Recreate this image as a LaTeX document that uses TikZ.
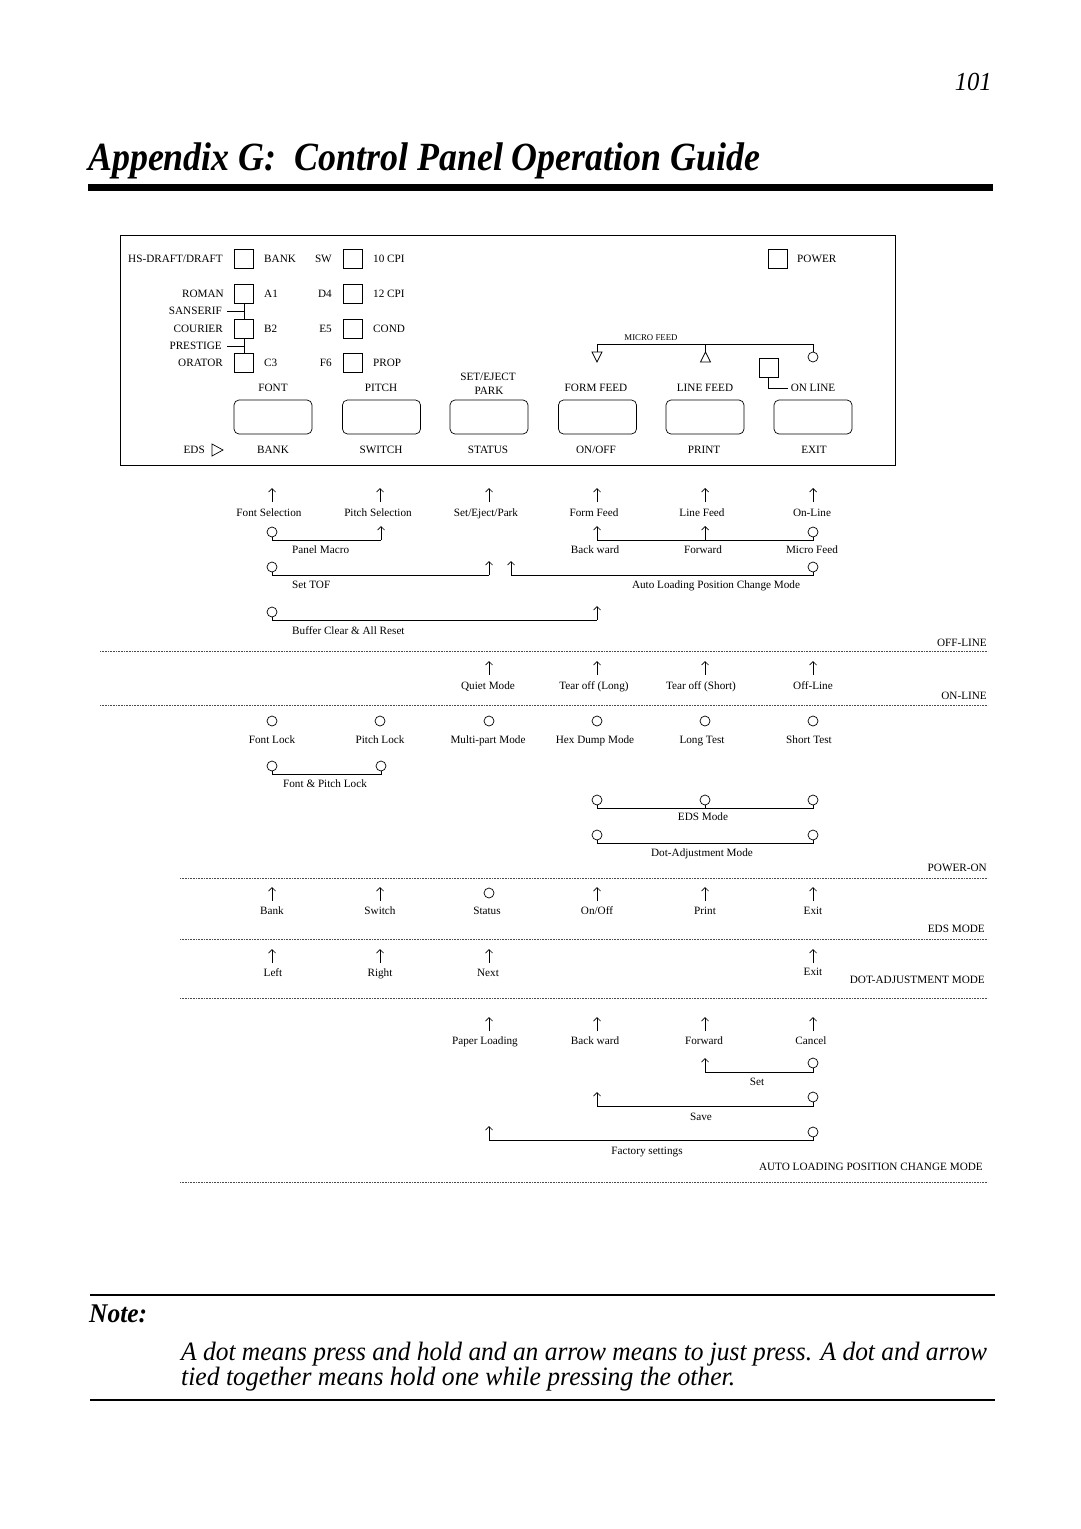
\documentclass[tikz,border=0pt]{standalone}
\usepackage{fontspec}
\setmainfont{Liberation Serif}
\usepackage{graphicx}
\usetikzlibrary{arrows.meta}
\newcommand\Hold[3]{\node[holdc] (#1) at (#2,#3) {};}
\newcommand\Press[4]{\coordinate (#1b) at (#2,#3); \coordinate (#1t) at (#2,#4); \draw[pressarr] (#1b) -- (#1t);}
\begin{document}
\begin{tikzpicture}[x=1pt,y=-1pt,
  lbl/.style={font=\fontsize{11.2}{13}\selectfont, inner sep=0pt, text height=7.4pt, text depth=0pt, anchor=center},
  small/.style={font=\fontsize{8.8}{10}\selectfont, inner sep=0pt, text height=5.9pt, text depth=0pt},
  holdc/.style={circle, draw, line width=0.7pt, minimum size=10pt, inner sep=0pt},
  pressarr/.style={line width=0.7pt, -{Straight Barb[length=3.5pt,width=7pt]}},
  tie/.style={line width=0.8pt},
  sqbox/.style={draw, line width=0.7pt, minimum size=19pt, inner sep=0pt},
  button/.style={draw, line width=0.7pt, rounded corners=5pt, minimum width=78pt, minimum height=34pt, inner sep=0pt},
  sepline/.style={densely dotted, line width=0.6pt, black!70}]
\useasboundingbox (0,0) rectangle (1080,1529);

% header
\node[anchor=base east, inner sep=0pt] (pagenum) at (992,90) {\resizebox{37pt}{\height}{\fontsize{26}{30}\selectfont\itshape 101}};
\node[anchor=base west, inner sep=0pt] (title) at (88,170) {\resizebox{672pt}{\height}{\fontsize{40}{45}\selectfont\bfseries\itshape Appendix G:~~Control Panel Operation Guide}};
\fill (88,184) rectangle (993,191);

% ---------- panel ----------
\draw[line width=0.7pt] (120,235) rectangle (895,465);
\foreach \nm/\yy in {r1/259, r2/294, r3/329, r4/363}{
  \node[sqbox] (sqa\nm) at (244,\yy) {};
  \node[sqbox] (sqb\nm) at (352.5,\yy) {};
}
\node[lbl, anchor=east] (hs) at (223,259) {HS-DRAFT/DRAFT};
\node[lbl, anchor=east] (roman) at (224,294) {ROMAN};
\node[lbl, anchor=east] (sans) at (222,311) {SANSERIF};
\node[lbl, anchor=east] (cour) at (223,329) {COURIER};
\node[lbl, anchor=east] (prest) at (222,346) {PRESTIGE};
\node[lbl, anchor=east] (orat) at (223,363) {ORATOR};
\draw[line width=0.7pt] (sqar2.south) -- (sqar3.north);
\draw[line width=0.7pt] (sqar3.south) -- (sqar4.north);
\draw[line width=0.7pt] ([xshift=5pt]sans.east) -- (sans.east -| sqar2.south);
\draw[line width=0.7pt] ([xshift=5pt]prest.east) -- (prest.east -| sqar2.south);
\node[lbl, anchor=west] (bank1) at (264,259) {BANK};
\node[lbl, anchor=west] (a1) at (264,294) {A1};
\node[lbl, anchor=west] (b2) at (264,329) {B2};
\node[lbl, anchor=west] (c3) at (264,363) {C3};
\node[lbl, anchor=east] (sw) at (332,259) {SW};
\node[lbl, anchor=east] (d4) at (332,294) {D4};
\node[lbl, anchor=east] (e5) at (332,329) {E5};
\node[lbl, anchor=east] (f6) at (332,363) {F6};
\node[lbl, anchor=west] (cpi10) at (373,259) {10 CPI};
\node[lbl, anchor=west] (cpi12) at (373,294) {12 CPI};
\node[lbl, anchor=west] (cond) at (373,329) {COND};
\node[lbl, anchor=west] (prop) at (373,363) {PROP};
% power
\node[sqbox] (pwsq) at (777.5,259) {};
\node[lbl, anchor=west] (power) at (797,259) {POWER};
% buttons
\foreach \i/\xx in {1/273, 2/381.5, 3/489, 4/597.5, 5/705, 6/813}{
  \node[button] (btn\i) at (\xx,417) {};
}
\node[lbl] (tfont) at (273,388) {FONT};
\node[lbl] (tpitch) at (381,388) {PITCH};
\node[lbl] (tset) at (488,377) {SET/EJECT};
\node[lbl] (tpark) at (489,391) {PARK};
\node[lbl] (tff) at (596,388) {FORM FEED};
\node[lbl] (tlf) at (705,388) {LINE FEED};
\node[lbl] (tol) at (813,388) {ON LINE};
\node[lbl] (bbank) at (273,450) {BANK};
\node[lbl] (bsw) at (381,450) {SWITCH};
\node[lbl] (bst) at (488,450) {STATUS};
\node[lbl] (bon) at (596,450) {ON/OFF};
\node[lbl] (bpr) at (704,450) {PRINT};
\node[lbl] (bex) at (814,450) {EXIT};
\node[lbl, anchor=east] (eds) at (205,450) {EDS};
\draw[line width=0.7pt] (212,444) -- (223,450) -- (212,456) -- cycle;
% on line square
\node[sqbox] (olsq) at (768.5,367.5) {};
\draw[line width=0.7pt] (olsq.south) |- ([xshift=-3pt]tol.west);
% micro feed
\node[small] (mf) at (651,338) {MICRO FEED};
\coordinate (mfl) at (597,344);
\coordinate (mfm) at (705.5,344);
\coordinate (mfr) at (813,344);
\node[holdc] (mfc) at (813,357) {};
\draw[line width=0.7pt] (mfl) -- (mfr) -- (mfc.north);
\draw[line width=0.7pt] (mfl) -- (597,352);
\draw[line width=0.7pt] (592,352) -- (602,352) -- (597,362) -- cycle;
\draw[line width=0.7pt] (mfm) -- (705.5,352);
\draw[line width=0.7pt] (705.5,352) -- (710.5,362) -- (700.5,362) -- cycle;

% ---------- OFF-LINE ----------
\Press{a1}{272}{502}{488}
\Press{a2}{380}{502}{488}
\Press{a3}{489}{502}{488}
\Press{a4}{597}{502}{488}
\Press{a5}{705}{502}{488}
\Press{a6}{813}{502}{488}
\node[lbl] (la1) at (269,513) {Font Selection};
\node[lbl] (la2) at (378,513) {Pitch Selection};
\node[lbl] (la3) at (486,513) {Set/Eject/Park};
\node[lbl] (la4) at (594,513) {Form Feed};
\node[lbl] (la5) at (702,513) {Line Feed};
\node[lbl] (la6) at (812,513) {On-Line};

\Hold{b1}{272}{532}
\Press{b2}{381}{540}{526}
\draw[tie] (b1.south) |- (b2b);
\Press{b4}{597}{540}{526}
\Press{b5}{705}{540}{526}
\Hold{b6}{813}{532}
\draw[tie] (b4b) -| (b6.south);
\node[lbl, anchor=west] (lpm) at (292,550) {Panel Macro};
\node[lbl] (lbw) at (595,550) {Back ward};
\node[lbl] (lfw) at (703,550) {Forward};
\node[lbl] (lmf) at (812,550) {Micro Feed};

\Hold{c1}{272}{567}
\Press{c3}{489}{575}{561}
\draw[tie] (c1.south) |- (c3b);
\Press{c4}{511}{575}{561}
\Hold{c6}{813}{567}
\draw[tie] (c4b) -| (c6.south);
\node[lbl, anchor=west] (ltof) at (292,585) {Set TOF};
\node[lbl] (lalp) at (716,585) {Auto Loading Position Change Mode};

\Hold{d1}{272}{612}
\Press{d4}{597}{620}{606}
\draw[tie] (d1.south) |- (d4b);
\node[lbl, anchor=west] (lbc) at (292,631) {Buffer Clear \& All Reset};

\node[lbl, anchor=east] (offl) at (987,643) {OFF-LINE};
\draw[sepline] (100,651) -- (988,651);

% ---------- ON-LINE ----------
\Press{o3}{489}{675}{661}
\Press{o4}{597}{675}{661}
\Press{o5}{705}{675}{661}
\Press{o6}{813}{675}{661}
\node[lbl] (lo3) at (488,686) {Quiet Mode};
\node[lbl] (lo4) at (594,686) {Tear off (Long)};
\node[lbl] (lo5) at (701,686) {Tear off (Short)};
\node[lbl] (lo6) at (813,686) {Off-Line};
\node[lbl, anchor=east] (onl) at (987,696) {ON-LINE};
\draw[sepline] (100,705) -- (988,705);

% ---------- POWER-ON ----------
\Hold{q1}{272}{721}
\Hold{q2}{380}{721}
\Hold{q3}{489}{721}
\Hold{q4}{597}{721}
\Hold{q5}{705}{721}
\Hold{q6}{813}{721}
\node[lbl] (lq1) at (272,740) {Font Lock};
\node[lbl] (lq2) at (380,740) {Pitch Lock};
\node[lbl] (lq3) at (488,740) {Multi-part Mode};
\node[lbl] (lq4) at (595,740) {Hex Dump Mode};
\node[lbl] (lq5) at (702,740) {Long Test};
\node[lbl] (lq6) at (809,740) {Short Test};

\Hold{p1}{272}{766}
\Hold{p2}{381}{766}
\draw[tie] (p1.south) -- ++(0,3) -| (p2.south);
\node[lbl] (lfp) at (325,784) {Font \& Pitch Lock};

\Hold{e1}{597}{800}
\Hold{e2}{705}{800}
\Hold{e3}{813}{800}
\draw[tie] (e1.south) -- ++(0,3) -| (e3.south);
\draw[tie] (e2.south) -- ++(0,3);
\node[lbl] (leds) at (703,817) {EDS Mode};

\Hold{g1}{597}{835}
\Hold{g2}{813}{835}
\draw[tie] (g1.south) -- ++(0,3) -| (g2.south);
\node[lbl] (ldot) at (702,853) {Dot-Adjustment Mode};

\node[lbl, anchor=east] (pon) at (987,868) {POWER-ON};
\draw[sepline] (180,878) -- (988,878);

% ---------- EDS MODE ----------
\Press{h1}{272}{901}{887}
\Press{h2}{380}{901}{887}
\Hold{h3}{489}{893}
\Press{h4}{597}{901}{887}
\Press{h5}{705}{901}{887}
\Press{h6}{813}{901}{887}
\node[lbl] (lh1) at (272,911) {Bank};
\node[lbl] (lh2) at (380,911) {Switch};
\node[lbl] (lh3) at (487,911) {Status};
\node[lbl] (lh4) at (597,911) {On/Off};
\node[lbl] (lh5) at (705,911) {Print};
\node[lbl] (lh6) at (813,911) {Exit};
\node[lbl, anchor=east] (edsm) at (985,929) {EDS MODE};
\draw[sepline] (180,939) -- (988,939);

% ---------- DOT-ADJUSTMENT MODE ----------
\Press{k1}{272}{963}{949}
\Press{k2}{380}{963}{949}
\Press{k3}{489}{963}{949}
\Press{k6}{813}{963}{949}
\node[lbl] (lk1) at (273,973) {Left};
\node[lbl] (lk2) at (380,973) {Right};
\node[lbl] (lk3) at (488,973) {Next};
\node[lbl] (lk6) at (813,972) {Exit};
\node[lbl, anchor=east] (dotm) at (985,980) {DOT-ADJUSTMENT MODE};
\draw[sepline] (180,998) -- (988,998);

% ---------- AUTO LOADING ----------
\Press{m3}{489}{1031}{1017}
\Press{m4}{597}{1031}{1017}
\Press{m5}{705}{1031}{1017}
\Press{m6}{813}{1031}{1017}
\node[lbl] (lm3) at (485,1041) {Paper Loading};
\node[lbl] (lm4) at (595,1041) {Back ward};
\node[lbl] (lm5) at (704,1041) {Forward};
\node[lbl] (lm6) at (811,1041) {Cancel};

\Press{s1}{705}{1072}{1058}
\Hold{s2}{813}{1063}
\draw[tie] (s1b) -| (s2.south);
\node[lbl] (lset) at (757,1082) {Set};

\Press{v1}{597}{1106}{1092}
\Hold{v2}{813}{1097}
\draw[tie] (v1b) -| (v2.south);
\node[lbl] (lsave) at (701,1117) {Save};

\Press{f1}{489}{1140}{1126}
\Hold{f2}{813}{1132}
\draw[tie] (f1b) -| (f2.south);
\node[lbl] (lfac) at (647,1151) {Factory settings};

\node[lbl, anchor=east] (alm) at (983,1167) {AUTO LOADING POSITION CHANGE MODE};
\draw[sepline] (180,1182) -- (988,1182);

% ---------- note ----------
\draw[line width=1.6pt] (90,1295) -- (995,1295);
\node[anchor=base west, inner sep=0pt] (note) at (89,1322) {\resizebox{58pt}{\height}{\fontsize{27}{30}\selectfont\bfseries\itshape Note:}};
\node[anchor=base west, inner sep=0pt] (nl1) at (181,1360) {\resizebox{806pt}{\height}{\fontsize{26.5}{30}\selectfont\itshape A dot means press and hold and an arrow means to just press. A dot and arrow}};
\node[anchor=base west, inner sep=0pt] (nl2) at (181,1385) {\resizebox{554pt}{\height}{\fontsize{26.5}{30}\selectfont\itshape tied together means hold one while pressing the other.}};
\draw[line width=1.6pt] (90,1400) -- (995,1400);
\end{tikzpicture}
\end{document}
